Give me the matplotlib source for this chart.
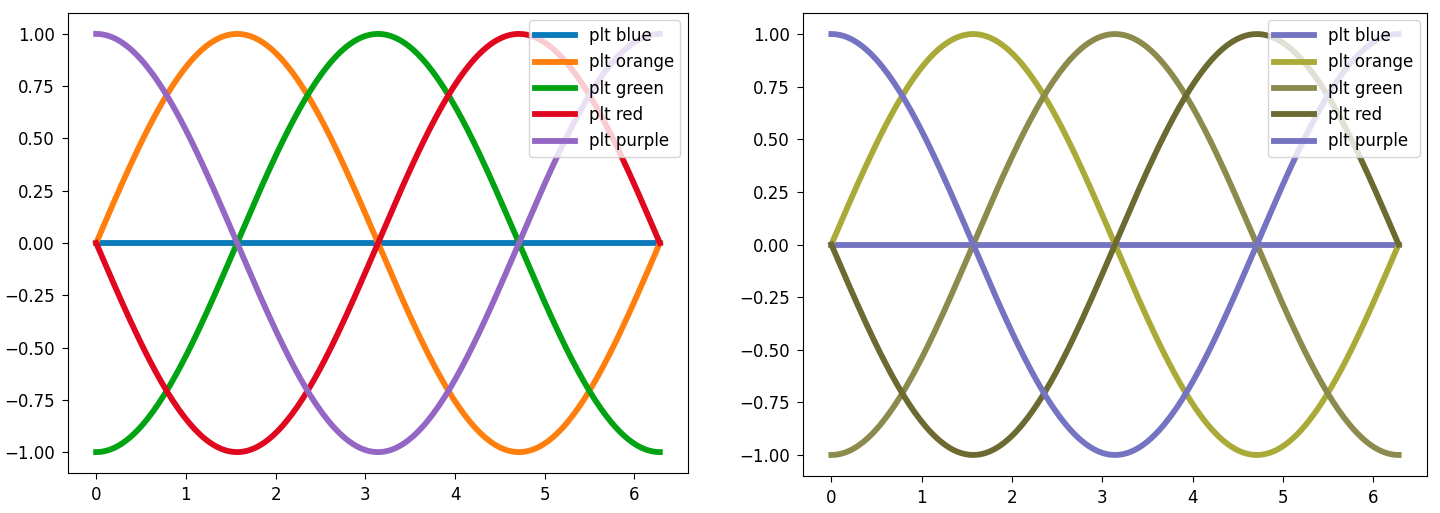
import numpy as np
import matplotlib
matplotlib.use("Agg")
import matplotlib.pyplot as plt

labels = ["plt blue", "plt orange", "plt green", "plt red", "plt purple"]
# each curve: amplitude * sin(x - phase)
amplitudes = [0.0, 1.0, 1.0, 1.0, 1.0]
phases = [0.0, 0.0, np.pi / 2, np.pi, 3 * np.pi / 2]
colors_left = ["#0a7abb", "#ff7f0e", "#02a312", "#e0081f", "#9467c4"]
colors_right = ["#7474c2", "#aaaa38", "#8c8a4c", "#6c6a30", "#7474c2"]
x_max = 2 * np.pi
n_points = 200

plt.rcParams["xtick.major.size"] = 4.4
plt.rcParams["ytick.major.size"] = 4.4
plt.rcParams["xtick.major.pad"] = 5
plt.rcParams["ytick.major.pad"] = 5

fig = plt.figure(figsize=(14.4, 5.13), dpi=100)
ax1 = fig.add_axes([68 / 1440, 1 - 473 / 513, 620 / 1440, 460 / 513])
ax2 = fig.add_axes([803 / 1440, 1 - 476 / 513, 624 / 1440, 463 / 513])

x = np.linspace(0, x_max, n_points)
for ax, cols in ((ax1, colors_left), (ax2, colors_right)):
    for lab, a, p, c in zip(labels, amplitudes, phases, cols):
        ax.plot(x, a * np.sin(x - p), color=c, lw=4.2, label=lab)
    ax.set_yticks([-1.0, -0.75, -0.5, -0.25, 0.0, 0.25, 0.5, 0.75, 1.0])
    ax.set_xticks(range(7))
    ax.tick_params(labelsize=12)
    ax.legend(loc="upper right", fontsize=12, handlelength=2.4, borderaxespad=0.45)

fig.savefig("out.png", dpi=100)
